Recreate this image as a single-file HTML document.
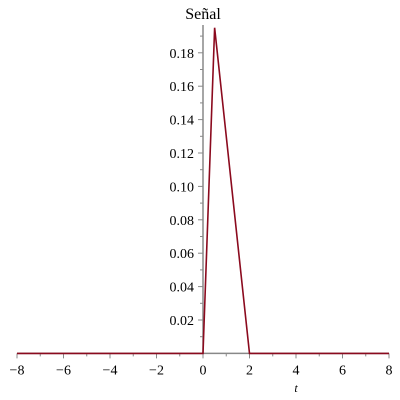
<!DOCTYPE html>
<html><head><meta charset="utf-8"><style>
html,body{margin:0;padding:0;background:#fff;width:400px;height:400px;overflow:hidden}
text{font-family:"Liberation Serif",serif;font-size:14px;fill:#000}
</style></head><body>
<svg id="chart" width="400" height="400" xmlns="http://www.w3.org/2000/svg"></svg>
<script>
const tData=[-8,0,0.5,2,8];
const yData=[0,0,0.195,0,0];
const xTicks=[-8,-6,-4,-2,0,2,4,6,8];
const yTicks=[0.02,0.04,0.06,0.08,0.10,0.12,0.14,0.16,0.18];
const yTickLabels=["0.02","0.04","0.06","0.08","0.10","0.12","0.14","0.16","0.18"];
const xTickLabels=["−8","−6","−4","−2","0","2","4","6","8"];

const NS="http://www.w3.org/2000/svg";
const svg=document.getElementById('chart');
const X=t=>203+t*23.25;
const Y=v=>353.4-v*1670;
function mk(tag,attrs){const e=document.createElementNS(NS,tag);for(const k in attrs)e.setAttribute(k,attrs[k]);svg.appendChild(e);return e;}

let xa=mk('line',{x1:X(-8),x2:X(8),y1:Y(0),y2:Y(0),stroke:'#888','stroke-width':1.5});


let ya=mk('line',{x1:X(0),x2:X(0),y1:Y(0),y2:25,stroke:'#888','stroke-width':1.5});



for(let t=-8;t<=8;t++){
  const major=t%2===0;
  mk('line',{x1:X(t),x2:X(t),y1:Y(0),y2:Y(0)+(major?5:3),stroke:'#888','stroke-width':1});
}
for(let i=1;i<=19;i++){
  const v=i*0.01;const major=i%2===0;
  mk('line',{x1:X(0)-(major?5:3),x2:X(0),y1:Y(v),y2:Y(v),stroke:'#888','stroke-width':1});
}
xTicks.forEach((t,i)=>{
  const e=mk('text',{x:X(t),y:Y(0)+21,'text-anchor':'middle'});
  e.textContent=xTickLabels[i];
  
  
});
yTicks.forEach((v,i)=>{
  const e=mk('text',{x:X(0)-9,y:Y(v)+5,'text-anchor':'end'});
  e.textContent=yTickLabels[i];
  
  
});
const title=mk('text',{x:203,y:19,'text-anchor':'middle','style':'font-size:16px'});
title.textContent='Señal';


const xl=mk('text',{x:296,y:392,'text-anchor':'middle','font-style':'italic','style':'font-size:12px'});
xl.textContent='t';



const pts=tData.map((t,i)=>X(t)+','+Y(yData[i])).join(' ');
const line=mk('polyline',{points:pts,fill:'none',stroke:'#8b0a1e','stroke-width':1.6,'stroke-linejoin':'miter'});


</script>
</body></html>
